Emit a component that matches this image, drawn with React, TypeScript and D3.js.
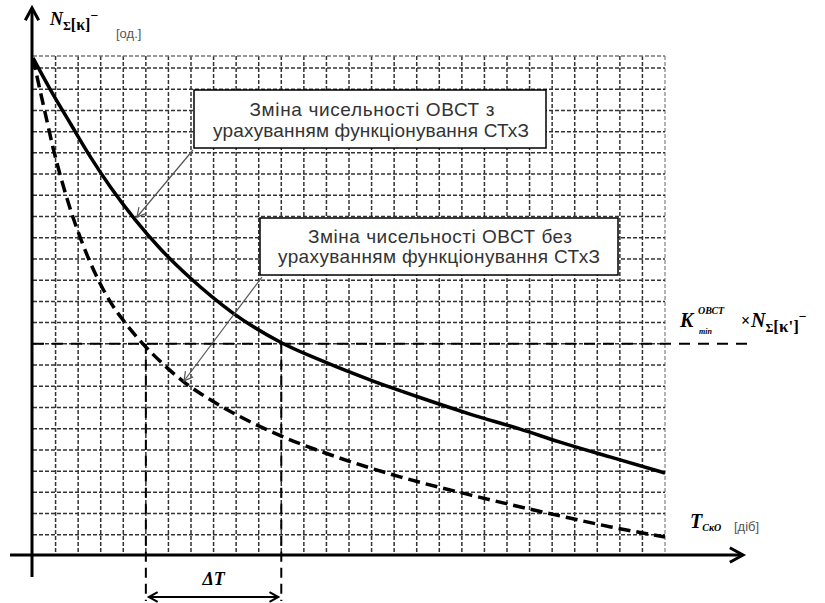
import React from "react";
import * as d3 from "d3";

// Curve with account of the support system (solid), in grid units
const withSupportX = [0, 0.78, 1.67, 2.55, 3.43, 4.54, 5.65, 6.97, 8.86, 11.03, 12.71, 14.93, 17.14, 19.36, 21.58, 23.35, 25.56, 28];
const withSupportY = [23.47, 21.96, 20.36, 18.8, 17.39, 15.83, 14.47, 13.1, 11.45, 10.04, 9.24, 8.3, 7.47, 6.69, 5.98, 5.37, 4.67, 3.91];

// Curve without account of the support system (dashed)
const withoutSupportX = [0, 0.22, 0.58, 0.89, 1.24, 1.68, 2.13, 2.79, 3.46, 4.12, 4.87, 5.67, 6.69, 7.88, 9.21, 10.98, 13.2, 16.3, 19.4, 23.39, 25.6, 28];
const withoutSupportY = [23.47, 22.39, 20.69, 19.23, 17.82, 16.26, 14.9, 13.24, 11.92, 10.94, 10.0, 9.14, 8.2, 7.35, 6.55, 5.66, 4.76, 3.72, 2.87, 1.88, 1.37, 0.9];

const thresholdLevel = [10];
const deltaTBounds = [5, 11];
const xGridTicks = d3.range(1, 29);
const yGridTicks = d3.range(1, 24);

const box1Lines = ["Зміна чисельності ОВСТ з", "урахуванням функціонування СТхЗ"];
const box2Lines = ["Зміна чисельності ОВСТ  без", "урахуванням функціонування  СТхЗ"];

const serif = "'Liberation Serif', 'DejaVu Serif', serif";
const sans = "'Liberation Sans', Arial, sans-serif";

function chevron(x: number, y: number, angle: number, len: number) {
  const a1 = angle + Math.PI - 0.5;
  const a2 = angle + Math.PI + 0.5;
  return `M${x + len * Math.cos(a1)},${y + len * Math.sin(a1)}L${x},${y}L${x + len * Math.cos(a2)},${y + len * Math.sin(a2)}`;
}

export default function App() {
  const x = d3.scaleLinear().domain([0, 28]).range([33, 665]);
  const y = d3.scaleLinear().domain([0, 23]).range([556, 68]);

  const line = d3
    .line<[number, number]>()
    .x((d) => x(d[0]))
    .y((d) => y(d[1]))
    .curve(d3.curveMonotoneX);

  const solidPts = withSupportX.map((v, i) => [v, withSupportY[i]] as [number, number]);
  const dashPts = withoutSupportX.map((v, i) => [v, withoutSupportY[i]] as [number, number]);

  const x0 = x(0);
  const xEnd = x(28);
  const yTop = y(23.57);
  const y0 = y(0);
  const yThr = y(thresholdLevel[0]);
  const xa = x(deltaTBounds[0]);
  const xb = x(deltaTBounds[1]);

  const arrow1 = { x1: 193, y1: 150, x2: 137, y2: 217 };
  const arrow2 = { x1: 262, y1: 277, x2: 184, y2: 381 };

  return (
    <svg width={825} height={603} style={{ position: "absolute", left: 0, top: 0, background: "#fff" }}>
      {/* grid */}
      <g stroke="#333" strokeWidth={1.5} strokeDasharray="4 2">
        {xGridTicks.map((t) => (
          <line key={"vx" + t} x1={x(t)} x2={x(t)} y1={yTop} y2={y0} stroke={t === 28 ? "#999" : "#333"} />
        ))}
        {yGridTicks.map((t) => (
          <line key={"hy" + t} x1={x0} x2={xEnd} y1={y(t)} y2={y(t)} />
        ))}
        <line x1={x0} x2={xEnd} y1={yTop} y2={yTop} stroke="#777" />
      </g>

      {/* threshold line */}
      <line x1={x0} x2={750} y1={yThr} y2={yThr} stroke="#000" strokeWidth={2} strokeDasharray="11 8" />

      {/* delta T verticals */}
      <line x1={xa} x2={xa} y1={yThr} y2={601} stroke="#000" strokeWidth={2} strokeDasharray="10 6" />
      <line x1={xb} x2={xb} y1={yThr} y2={601} stroke="#000" strokeWidth={2} strokeDasharray="10 6" />

      {/* curves */}
      <path d={line(dashPts) || ""} fill="none" stroke="#000" strokeWidth={3.5} strokeDasharray="12 6" />
      <path d={line(solidPts) || ""} fill="none" stroke="#000" strokeWidth={3.5} />

      {/* axes */}
      <line x1={x0 - 1} x2={x0 - 1} y1={577} y2={8} stroke="#000" strokeWidth={3} />
      <path d={chevron(x0 - 1, 8, -Math.PI / 2, 14)} fill="none" stroke="#000" strokeWidth={3} />
      <line x1={10} x2={743} y1={y0 - 1} y2={y0 - 1} stroke="#000" strokeWidth={3} />
      <path d={chevron(743, y0 - 1, 0, 15)} fill="none" stroke="#000" strokeWidth={3} />

      {/* delta T arrow */}
      <line x1={xa + 3} x2={xb - 3} y1={597} y2={597} stroke="#000" strokeWidth={2} />
      <path d={chevron(xa + 3, 597, Math.PI, 10)} fill="none" stroke="#000" strokeWidth={2} />
      <path d={chevron(xb - 3, 597, 0, 10)} fill="none" stroke="#000" strokeWidth={2} />
      <text x={(xa + xb) / 2} y={585} textAnchor="middle" fontFamily={serif} fontWeight="bold" fontStyle="italic" fontSize={18}>
        ΔT
      </text>

      {/* annotation arrows */}
      {[arrow1, arrow2].map((a, i) => {
        const ang = Math.atan2(a.y2 - a.y1, a.x2 - a.x1);
        return (
          <g key={"ar" + i} stroke="#555" strokeWidth={1.2} fill="none">
            <line x1={a.x1} y1={a.y1} x2={a.x2} y2={a.y2} />
            <path d={chevron(a.x2, a.y2, ang, 10)} />
          </g>
        );
      })}

      {/* box 1 */}
      <rect x={194} y={90} width={352} height={58} fill="#fff" stroke="#000" strokeWidth={1.5} />
      <g fontFamily={sans} fontSize={19} fill="#333" textAnchor="middle">
        <text x={372} y={116} textLength={245} lengthAdjust="spacing">{box1Lines[0]}</text>
        <text x={371} y={137} textLength={316} lengthAdjust="spacing">{box1Lines[1]}</text>
      </g>

      {/* box 2 */}
      <rect x={260} y={218} width={358} height={57} fill="#fff" stroke="#000" strokeWidth={1.5} />
      <g fontFamily={sans} fontSize={19} fill="#333" textAnchor="middle">
        <text x={440} y={243} textLength={264} lengthAdjust="spacing">{box2Lines[0]}</text>
        <text x={439} y={263} textLength={322} lengthAdjust="spacing">{box2Lines[1]}</text>
      </g>

      {/* y-axis label */}
      <text x={50} y={25} fontFamily={serif} fontWeight="bold" fontStyle="italic" fontSize={18}>
        N
        <tspan fontSize={12} fontStyle="normal" dy={5}>Σ</tspan>
        <tspan fontSize={16} fontStyle="normal" dy={0}>[κ]</tspan>
        <tspan fontSize={14} fontStyle="normal" dy={-10}>−</tspan>
      </text>
      <text x={116} y={38} fontFamily={sans} fontSize={13} fill="#555">[од.]</text>

      {/* threshold label */}
      <text x={680} y={327} fontFamily={serif} fontWeight="bold" fontStyle="italic" fontSize={20}>K</text>
      <text x={698} y={314} fontFamily={serif} fontWeight="bold" fontStyle="italic" fontSize={10}>ОВСТ</text>
      <text x={699} y={334} fontFamily={serif} fontWeight="bold" fontStyle="italic" fontSize={8}>min</text>
      <text x={741} y={326} fontFamily={serif} fontWeight="bold" fontSize={16}>×</text>
      <text x={751} y={327} fontFamily={serif} fontWeight="bold" fontStyle="italic" fontSize={20}>
        N
        <tspan fontSize={12} fontStyle="normal" dy={5}>Σ</tspan>
        <tspan fontSize={17} fontStyle="normal" dy={0}>[κ']</tspan>
        <tspan fontSize={14} fontStyle="normal" dy={-11}>−</tspan>
      </text>

      {/* x-axis label */}
      <text x={690} y={528} fontFamily={serif} fontWeight="bold" fontStyle="italic" fontSize={20}>
        T
        <tspan fontSize={10} dy={3}>СкО</tspan>
      </text>
      <text x={734} y={531} fontFamily={sans} fontSize={13} fill="#555">[діб]</text>
    </svg>
  );
}
